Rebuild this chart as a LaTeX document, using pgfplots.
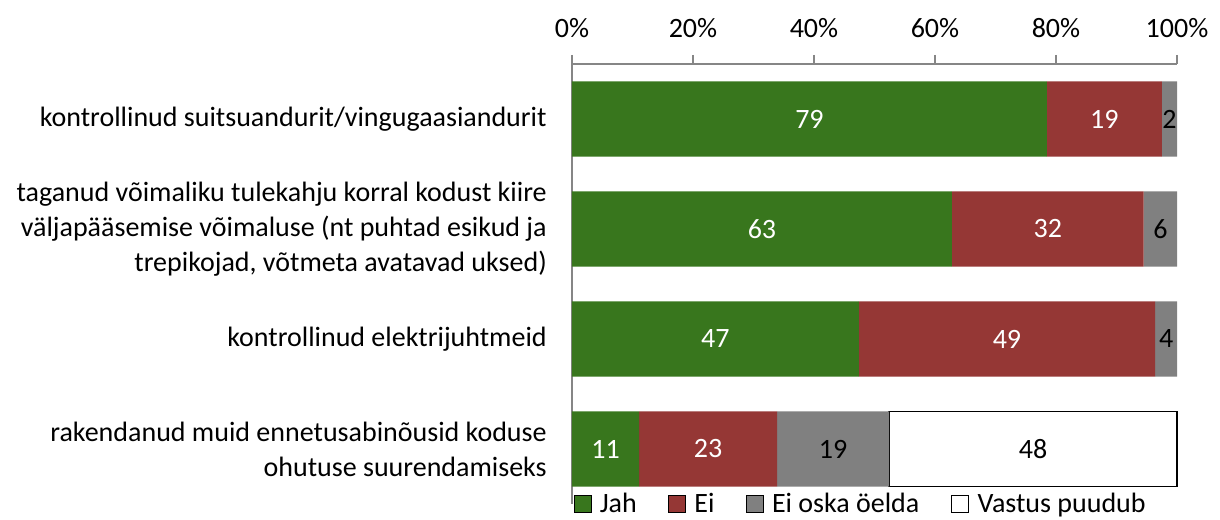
\documentclass[border=0pt]{standalone}
\usepackage{fontspec}
\setmainfont{Carlito}
\usepackage{pgfplots}
\pgfplotsset{compat=1.18}
\usepackage{pgfplotstable}
\definecolor{cJah}{HTML}{38761D}
\definecolor{cEi}{HTML}{953735}
\definecolor{cEo}{HTML}{808080}
\definecolor{axgray}{HTML}{868686}

\pgfplotstableread{
y x lab
0 11.1 11
1 47.4 47
2 62.8 63
3 78.5 79
}\jah
\pgfplotstableread{
y x lab
0 22.8 23
1 49.0 49
2 31.7 32
3 19.0 19
}\ei
\pgfplotstableread{
y x lab
0 18.5 19
1 3.6 4
2 5.5 6
3 2.5 2
}\eioska
\pgfplotstableread{
y x lab
0 47.6 48
}\vastus

\newcommand{\bigfont}{\fontsize{21pt}{26.25pt}\selectfont}

\pgfplotsset{
  lbl/.style={
    nodes near coords,
    point meta=explicit symbolic,
    every node near coord/.append style={anchor=center, text=#1, font=\bigfont},
  },
}

\begin{document}
\begin{tikzpicture}
\begin{axis}[
  name=ax,
  scale only axis, width=453.75pt, height=330pt,
  xbar stacked, bar width=0.682,
  xmin=0, xmax=100, ymin=-0.5, ymax=3.5,
  enlargelimits=false,
  clip=false,
  axis x line=top, axis y line=left,
  axis line style={-, draw=axgray, line width=1.2pt},
  xtick={0,20,40,60,80,100},
  xticklabels={0\%,20\%,40\%,60\%,80\%,100\%},
  tick align=outside,
  major tick length=6.75pt,
  x tick style={draw=axgray, line width=1.2pt},
  ytick={0,1,2,3},
  y tick style={draw=none},
  major y tick style={draw=none},
  yticklabels={{rakendanud muid ennetusabinõusid koduse\\ohutuse suurendamiseks},
               {kontrollinud elektrijuhtmeid},
               {taganud võimaliku tulekahju korral kodust kiire\\väljapääsemise võimaluse (nt puhtad esikud ja\\trepikojad, võtmeta avatavad uksed)},
               {kontrollinud suitsuandurit/vingugaasiandurit}},
  yticklabel style={align=right, font=\bigfont, inner sep=0pt, xshift=-12pt},
  xticklabel style={font=\bigfont, yshift=9.75pt},
  legend columns=4,
  legend cell align=left,
  legend style={at={(rel axis cs:0,0)}, anchor=west, draw=none, fill=none,
    font=\bigfont, inner sep=1pt,
    nodes={inner sep=2.5pt},
    /tikz/every odd column/.append style={column sep=4pt},
    /tikz/every even column/.append style={column sep=21pt}},
  legend image code/.code={\draw[#1] (0pt,-6.4pt) rectangle (12.75pt,6.4pt);},
]
\addplot[fill=cJah, draw=none, lbl=white] table[x=x, y=y, meta=lab] {\jah};
\addlegendentry{Jah}
\addplot[fill=cEi, draw=none, lbl=white] table[x=x, y=y, meta=lab] {\ei};
\addlegendentry{Ei}
\addplot[fill=cEo, draw=none, lbl=black] table[x=x, y=y, meta=lab] {\eioska};
\addlegendentry{Ei oska öelda}
\addplot[fill=white, draw=black, line width=1pt, lbl=black] table[x=x, y=y, meta=lab] {\vastus};
\addlegendentry{Vastus puudub}
\end{axis}
\pgfresetboundingbox
\path ([shift={(-429pt,48pt)}]ax.north west) rectangle ([shift={(486pt,-342pt)}]ax.north west);
\end{tikzpicture}
\end{document}
